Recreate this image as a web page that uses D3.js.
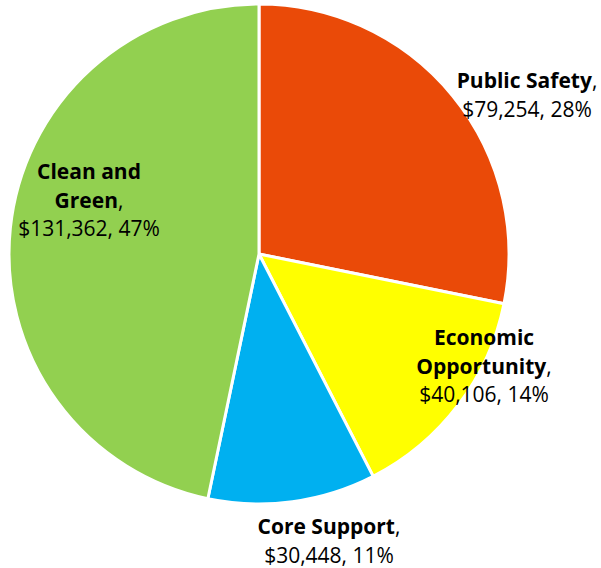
<!DOCTYPE html>
<html><head><meta charset="utf-8">
<script src="https://cdn.jsdelivr.net/npm/d3@7"></script>
<style>html,body{margin:0;padding:0;background:#fff;}svg{display:block;}</style>
</head><body>
<svg id="c" width="601" height="568"></svg>
<script>
const categories = ["Public Safety", "Economic Opportunity", "Core Support", "Clean and Green"];
const values = [79254, 40106, 30448, 131362];
const percents = ["28%", "14%", "11%", "47%"];
const colors = ["#EA4A08", "#FFFF00", "#00B0F0", "#92D050"];
// label line breaks for the bold name
const nameLines = [["Public Safety"], ["Economic", "Opportunity"], ["Core Support"], ["Clean and", "Green"]];

const svg = d3.select("#c");
const cx = 259, cy = 254, r = 250;
const g = svg.append("g").attr("transform", `translate(${cx},${cy})`);
const data = categories.map((c, i) => ({name: c, value: values[i], pct: percents[i], color: colors[i], lines: nameLines[i]}));
const pie = d3.pie().value(d => d.value).sort(null);
const arc = d3.arc().innerRadius(0).outerRadius(r);
const arcs = pie(data);
g.selectAll("path").data(arcs).join("path")
  .attr("d", arc).attr("fill", d => d.data.color)
  .attr("stroke", "#fff").attr("stroke-width", 3).attr("stroke-linejoin", "miter");

// label anchor positions (layout)
const labelPos = [[527, 88], [484, 345], [329, 534], [89, 179]];
const lh = 28.5;
const fmt = d3.format(",");
arcs.forEach((a, i) => {
  const d = a.data;
  const [x, y] = labelPos[i];
  const t = svg.append("text").attr("x", x).attr("y", y)
    .attr("text-anchor", "middle").attr("font-family", "'Open Sans', sans-serif")
    .attr("font-size", 21).attr("fill", "#000");
  d.lines.forEach((ln, j) => {
    const ts = t.append("tspan").attr("x", x).attr("dy", j === 0 ? 0 : lh);
    ts.append("tspan").attr("font-weight", "bold").text(ln);
    if (j === d.lines.length - 1) ts.append("tspan").text(",");
  });
  t.append("tspan").attr("x", x).attr("dy", lh).text(`$${fmt(d.value)}, ${d.pct}`);
});
</script>
</body></html>
